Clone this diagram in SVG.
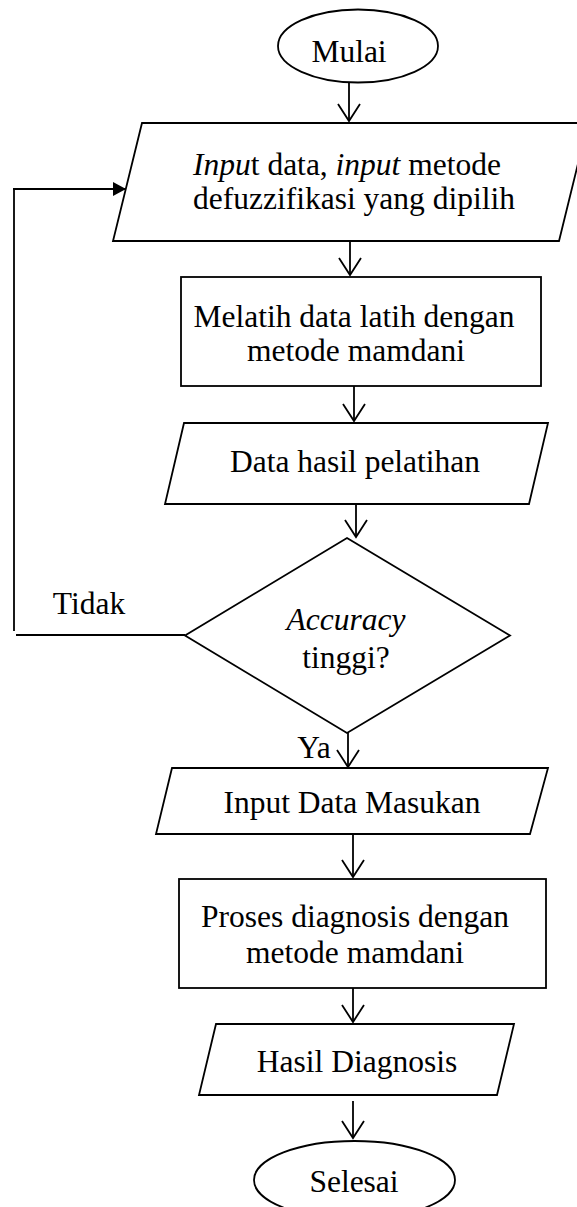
<svg xmlns="http://www.w3.org/2000/svg" width="577" height="1207" viewBox="0 0 577 1207">
<style>
.s{fill:#fff;stroke:#000;stroke-width:1.8}
.t{font-family:"Liberation Serif","Times New Roman",serif;font-size:31.5px;fill:#000;text-anchor:middle}
.l{fill:none;stroke:#000;stroke-width:1.8}
.i{font-style:italic}
</style>
<defs>
<marker id="v" markerUnits="userSpaceOnUse" markerWidth="24" markerHeight="28" viewBox="-20 -14 24 28" refX="0" refY="0" orient="auto" overflow="visible">
<path d="M -17 -11 L 0 0 L -17 11" fill="none" stroke="#000" stroke-width="1.8"/>
</marker>
<marker id="f" markerUnits="userSpaceOnUse" markerWidth="16" markerHeight="16" viewBox="-14 -8 16 16" refX="0" refY="0" orient="auto" overflow="visible">
<path d="M -13 -7 L 0 0 L -13 7 Z" fill="#000"/>
</marker>
</defs>
<g id="connectors">
<line class="l" x1="349" y1="82" x2="349" y2="121" marker-end="url(#v)"/>
<line class="l" x1="350" y1="241" x2="350" y2="275" marker-end="url(#v)"/>
<line class="l" x1="354" y1="386" x2="354" y2="421" marker-end="url(#v)"/>
<line class="l" x1="356" y1="504" x2="356" y2="537" marker-end="url(#v)"/>
<line class="l" x1="348" y1="733" x2="348" y2="767" marker-end="url(#v)"/>
<line class="l" x1="353" y1="834" x2="353" y2="877" marker-end="url(#v)"/>
<line class="l" x1="353" y1="988" x2="353" y2="1022" marker-end="url(#v)"/>
<line class="l" x1="353" y1="1101" x2="353" y2="1138" marker-end="url(#v)"/>
<line class="l" x1="185" y1="635" x2="16" y2="635"/>
<line class="l" x1="14" y1="631" x2="14" y2="189"/>
<line class="l" x1="13" y1="189" x2="126" y2="189" marker-end="url(#f)"/>
<text class="t" x="89" y="614">Tidak</text>
<text class="t" x="314" y="758">Ya</text>
</g>
<g id="mulai">
<ellipse class="s" cx="358" cy="46" rx="80" ry="36.5"/>
<text class="t" x="349" y="62">Mulai</text>
</g>
<g id="input1">
<polygon class="s" points="142,123 588,123 559,241 113,241"/>
<text class="t" x="347" y="175"><tspan class="i">Inpu</tspan>t data, <tspan class="i">input</tspan> metode</text>
<text class="t" x="354" y="209">defuzzifikasi yang dipilih</text>
</g>
<g id="melatih">
<rect class="s" x="181" y="277" width="360" height="109"/>
<text class="t" x="354" y="327">Melatih data latih dengan</text>
<text class="t" x="356" y="361">metode mamdani</text>
</g>
<g id="hasil-pelatihan">
<polygon class="s" points="184,423 548,423 529,504 165,504"/>
<text class="t" x="355" y="472">Data hasil pelatihan</text>
</g>
<g id="accuracy">
<polygon class="s" points="347,538 510,635.5 347,733 185,635.5"/>
<text class="t i" x="346" y="630">Accuracy</text>
<text class="t" x="346" y="668">tinggi?</text>
</g>
<g id="input-masukan">
<polygon class="s" points="172,768 548,768 530,834 156,834"/>
<text class="t" x="352" y="813">Input Data Masukan</text>
</g>
<g id="proses">
<rect class="s" x="179" y="879" width="367" height="109"/>
<text class="t" x="355" y="927">Proses diagnosis dengan</text>
<text class="t" x="355" y="963">metode mamdani</text>
</g>
<g id="hasil-diagnosis">
<polygon class="s" points="216,1024 514,1024 497,1095 199,1095"/>
<text class="t" x="357" y="1072">Hasil Diagnosis</text>
</g>
<g id="selesai">
<ellipse class="s" cx="354.5" cy="1180" rx="100.5" ry="39"/>
<text class="t" x="354" y="1192">Selesai</text>
</g>
</svg>
